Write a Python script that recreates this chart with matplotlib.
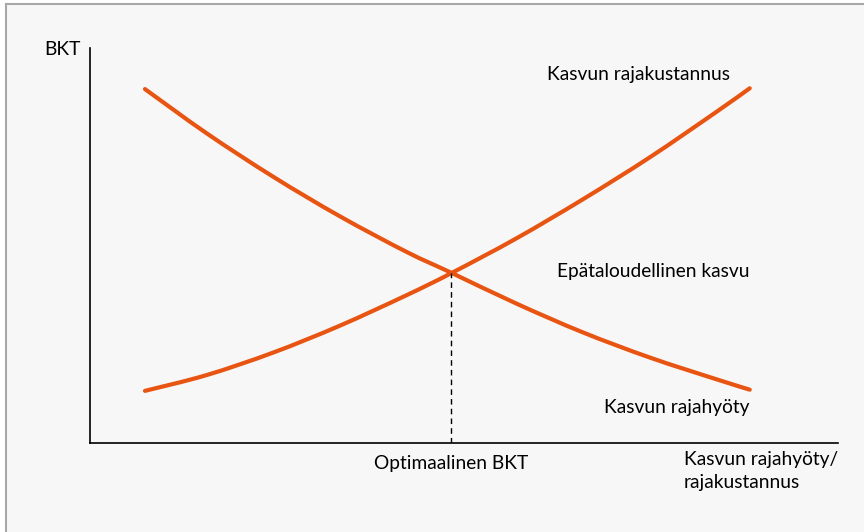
import matplotlib
matplotlib.use('Agg')
import matplotlib.pyplot as plt
import numpy as np
from matplotlib.lines import Line2D
from matplotlib.patches import Rectangle, PathPatch
from matplotlib.path import Path

plt.rcParams['font.family'] = ['Lato', 'DejaVu Sans']

# luettu kuvasta (akselin yksiköt 0-100)
bkt = [7.35, 15.6, 24.5, 33.4, 42.3, 48.3, 57.0, 65.9, 74.9, 83.8, 88.2]
rajahyoty = [89.6, 78.4, 67.4, 57.4, 48.4, 43.1, 35.3, 28.0, 21.6, 16.1, 13.5]
rajakustannus = [13.2, 17.2, 22.9, 29.7, 37.4, 43.0, 51.8, 61.7, 72.4, 83.9, 89.8]
opt_x, opt_y = 48.3, 43.1

orange = '#E85412'


def smooth_path(xs, ys):
    # Catmull-Rom -> cubic Bezier segments through the read points
    p = np.column_stack([xs, ys])
    verts = [p[0]]
    codes = [Path.MOVETO]
    for i in range(len(p) - 1):
        p0 = p[i - 1] if i > 0 else p[i]
        p3 = p[i + 2] if i + 2 < len(p) else p[i + 1]
        c1 = p[i] + (p[i + 1] - p0) / 6
        c2 = p[i + 1] - (p3 - p[i]) / 6
        verts += [c1, c2, p[i + 1]]
        codes += [Path.CURVE4] * 3
    return Path(verts, codes)


fig = plt.figure(figsize=(8.64, 5.32), dpi=100, facecolor='white')
fig.patches.append(Rectangle((6 / 864, 0), 1, 1 - 4 / 532, transform=fig.transFigure,
                             facecolor='#F7F7F7', edgecolor='none', zorder=-5))
fig.lines.append(Line2D([6 / 864, 1], [1 - 4 / 532, 1 - 4 / 532], transform=fig.transFigure,
                        color='#A8A8A8', lw=1.5))
fig.lines.append(Line2D([6 / 864, 6 / 864], [0, 1 - 4 / 532], transform=fig.transFigure,
                        color='#A8A8A8', lw=1.5))

ax = fig.add_axes([90 / 864, (532 - 443) / 532, (838 - 90) / 864, (443 - 48) / 532])
ax.set_facecolor('none')
ax.set_xlim(0, 100)
ax.set_ylim(0, 100)
for s in ['top', 'right']:
    ax.spines[s].set_visible(False)
for s in ['left', 'bottom']:
    ax.spines[s].set_linewidth(1.2)
ax.set_xticks([])
ax.set_yticks([])

for ys in [rajahyoty, rajakustannus]:
    ax.add_patch(PathPatch(smooth_path(bkt, ys), fill=False, edgecolor=orange, lw=3,
                           capstyle='round', joinstyle='round'))
ax.plot([opt_x, opt_x], [0, opt_y], color='black', lw=1, ls=(0, (4, 3)))

fs = 13.8
ax.text(-6.15, 99.5, "BKT", fontsize=fs, ha='left', va='center')
ax.text(85.6, 93.2, "Kasvun rajakustannus", fontsize=fs, ha='right', va='center')
ax.text(88.2, 43.3, "Epätaloudellinen kasvu", fontsize=fs, ha='right', va='center')
ax.text(88.2, 8.9, "Kasvun rajahyöty", fontsize=fs, ha='right', va='center')
ax.text(opt_x, -5.1, "Optimaalinen BKT", fontsize=fs, ha='center', va='center')
ax.text(79.4, -2.0, "Kasvun rajahyöty/\nrajakustannus", fontsize=fs, ha='left', va='top',
        linespacing=1.45)

fig.savefig("out.png", dpi=100)
